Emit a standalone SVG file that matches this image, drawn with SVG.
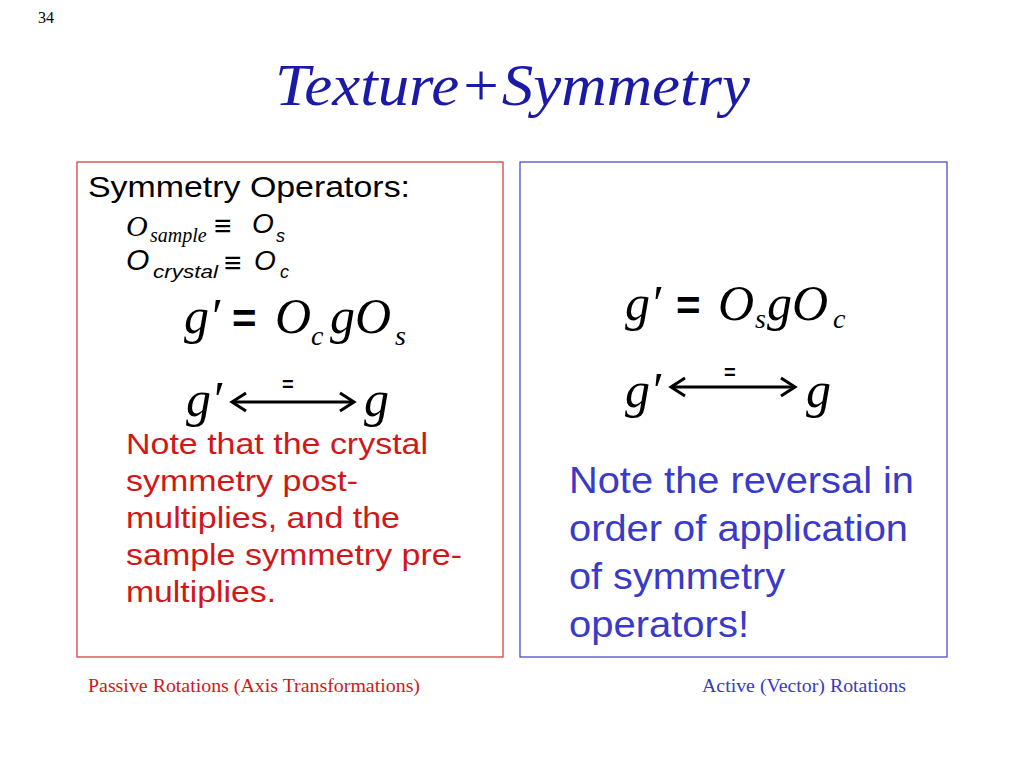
<svg xmlns="http://www.w3.org/2000/svg" width="1024" height="768" viewBox="0 0 1024 768">
<style>
.s{font-family:"Liberation Sans",Arial,sans-serif}
.m{font-family:"Liberation Serif","Times New Roman",serif;font-style:italic}
.ar{fill:none;stroke:#000;stroke-width:3}
</style>
<rect width="1024" height="768" fill="#fff"/>
<text x="38" y="23" class="m" style="font-style:normal" font-size="16">34</text>
<text x="275" y="105" class="m" font-size="60" fill="#1a1aa6" textLength="475" lengthAdjust="spacingAndGlyphs">Texture+Symmetry</text>
<g id="left">
<rect x="77" y="162" width="426" height="495" fill="none" stroke="#d43030" stroke-width="1.2"/>
<text x="88" y="197" class="s" font-size="30" textLength="322" lengthAdjust="spacingAndGlyphs">Symmetry Operators:</text>
<text x="126" y="236" class="m" font-size="30">O</text><text x="150" y="242" class="m" font-size="20">sample</text>
<text x="214" y="236" class="s" font-size="30">≡</text><text x="252" y="233" class="s" font-size="28" font-style="italic">O</text><text x="276" y="242" class="s" font-size="18" font-style="italic">s</text>
<text x="126" y="270" class="s" font-size="30" font-style="italic">O</text><text x="153" y="278" class="s" font-size="19" font-style="italic" textLength="65" lengthAdjust="spacingAndGlyphs">crystal</text>
<text x="224" y="273" class="s" font-size="30">≡</text><text x="254" y="270" class="s" font-size="28" font-style="italic">O</text><text x="280" y="278" class="s" font-size="18" font-style="italic">c</text>
<text x="184" y="333" class="m" font-size="50">g′</text>
<text x="232" y="333" class="s" font-size="42" font-weight="bold">=</text>
<text x="275" y="333" class="m" font-size="50">O</text><text x="311" y="345" class="m" font-size="28">c</text>
<text x="330" y="333" class="m" font-size="50">gO</text><text x="395" y="345" class="m" font-size="28">s</text>
<text x="186" y="416" class="m" font-size="50">g′</text>
<text x="282" y="391" class="s" font-size="20" font-weight="bold">=</text>
<line x1="232" y1="402" x2="354" y2="402" class="ar"/>
<polyline points="246,393 232,402 246,411" class="ar"/><polyline points="340,393 354,402 340,411" class="ar"/>
<text x="364" y="416" class="m" font-size="50">g</text>
<g class="s" font-size="30" fill="#d01818" lengthAdjust="spacingAndGlyphs">
<text x="126" y="454" textLength="302" lengthAdjust="spacingAndGlyphs">Note that the crystal</text>
<text x="126" y="491" textLength="232" lengthAdjust="spacingAndGlyphs">symmetry post-</text>
<text x="126" y="528" textLength="274" lengthAdjust="spacingAndGlyphs">multiplies, and the</text>
<text x="126" y="565" textLength="336" lengthAdjust="spacingAndGlyphs">sample symmetry pre-</text>
<text x="126" y="602" textLength="150" lengthAdjust="spacingAndGlyphs">multiplies.</text>
</g>
</g>
<g id="right">
<rect x="520" y="162" width="427" height="495" fill="none" stroke="#4040c8" stroke-width="1.2"/>
<text x="625" y="320" class="m" font-size="50">g′</text>
<text x="676" y="320" class="s" font-size="42" font-weight="bold">=</text>
<text x="718" y="320" class="m" font-size="50">O</text><text x="755" y="328" class="m" font-size="28">s</text>
<text x="767" y="320" class="m" font-size="50">gO</text><text x="833" y="328" class="m" font-size="28">c</text>
<text x="625" y="407" class="m" font-size="50">g′</text>
<text x="724" y="379" class="s" font-size="20" font-weight="bold">=</text>
<line x1="671" y1="387" x2="795" y2="387" class="ar"/>
<polyline points="685,378 671,387 685,396" class="ar"/><polyline points="781,378 795,387 781,396" class="ar"/>
<text x="806" y="407" class="m" font-size="50">g</text>
<g class="s" font-size="37" fill="#3a3ac8">
<text x="569" y="493" textLength="345" lengthAdjust="spacingAndGlyphs">Note the reversal in</text>
<text x="569" y="541" textLength="339" lengthAdjust="spacingAndGlyphs">order of application</text>
<text x="569" y="589" textLength="216" lengthAdjust="spacingAndGlyphs">of symmetry</text>
<text x="569" y="637" textLength="180" lengthAdjust="spacingAndGlyphs">operators!</text>
</g>
</g>
<text x="88" y="692" class="m" style="font-style:normal" font-size="18" fill="#d01818" textLength="332" lengthAdjust="spacingAndGlyphs">Passive Rotations (Axis Transformations)</text>
<text x="702" y="692" class="m" style="font-style:normal" font-size="18" fill="#3a3ac8" textLength="204" lengthAdjust="spacingAndGlyphs">Active (Vector) Rotations</text>
</svg>
